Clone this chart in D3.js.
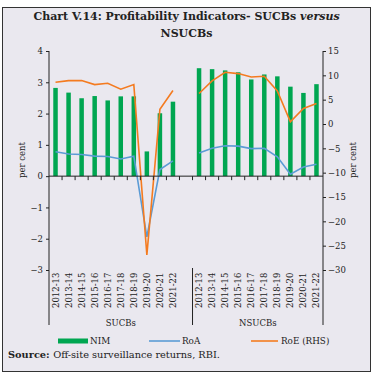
<!DOCTYPE html>
<html>
<head>
<meta charset="utf-8">
<script src="https://cdn.jsdelivr.net/npm/d3@7"></script>
<style>
  body { margin: 0; background: #fff; }
  svg { display: block; font-family: "DejaVu Serif", "Liberation Serif", serif; }
</style>
</head>
<body>
<div id="containerGraph"></div>
<script>
// categories and groups
var years = ["2012-13", "2013-14", "2014-15", "2015-16", "2016-17",
             "2017-18", "2018-19", "2019-20", "2020-21", "2021-22"];
var groups = ["SUCBs", "NSUCBs"];

// series values (per cent)
var nimSUCB  = [2.82, 2.67, 2.49, 2.56, 2.42, 2.55, 2.55, 0.79, 2.01, 2.38];
var nimNSUCB = [3.45, 3.42, 3.38, 3.32, 3.09, 3.25, 3.19, 2.86, 2.66, 2.94];
var roaSUCB  = [0.78, 0.71, 0.69, 0.64, 0.63, 0.55, 0.64, -1.94, 0.21, 0.49];
var roaNSUCB = [0.74, 0.89, 0.97, 0.96, 0.88, 0.89, 0.62, 0.06, 0.29, 0.38];
var roeSUCB  = [8.58, 8.92, 8.92, 8.1, 8.37, 7.14, 8.1, -26.9, 3.04, 6.87];
var roeNSUCB = [6.26, 8.85, 10.63, 10.36, 9.67, 9.81, 6.8, 0.43, 3.18, 4.2];

var leftTicks = [-3, -2, -1, 0, 1, 2, 3, 4];
var rightTicks = [-30, -25, -20, -15, -10, -5, 0, 5, 10, 15];

var W = 373, H = 374;
var margin = {left: 49, right: 50, top: 51, plotBottom: 270};

// keys: 10 SUCB years, a blank slot, 10 NSUCB years
var keys = years.map(function(y) { return "S|" + y; })
  .concat(["gap"])
  .concat(years.map(function(y) { return "N|" + y; }));

var x = d3.scaleBand().domain(keys).range([margin.left, W - margin.right]);
var yL = d3.scaleLinear().domain([-3, 4]).range([margin.plotBottom, margin.top]);
var yR = d3.scaleLinear().domain([-30, 15]).range([margin.plotBottom, margin.top]);

var green = "#00a651", blue = "#5b9bd5", orange = "#f47b20";

var svg = d3.select("#containerGraph").append("svg")
    .attr("width", W).attr("height", H);

// frame
svg.append("rect")
    .attr("x", 2.5).attr("y", 7.5).attr("width", W - 5).attr("height", H - 10)
    .attr("fill", "#eae8ef").attr("stroke", "#333").attr("stroke-width", 1);

// title
var title = svg.append("text").attr("x", W / 2).attr("y", 20)
    .attr("text-anchor", "middle").style("font-size", "11px").style("font-weight", "bold")
    .attr("fill", "#222");
title.append("tspan").text("Chart V.14: Profitability Indicators- SUCBs ");
title.append("tspan").style("font-style", "italic").text("versus");
svg.append("text").attr("x", W / 2).attr("y", 37)
    .attr("text-anchor", "middle").style("font-size", "11px").style("font-weight", "bold")
    .attr("fill", "#222").text("NSUCBs");

// bars
function barData(vals, g) {
  return vals.map(function(v, i) { return {k: g + "|" + years[i], v: v}; });
}
var bw = 4.5;
svg.append("g").selectAll("rect")
    .data(barData(nimSUCB, "S").concat(barData(nimNSUCB, "N")))
  .enter().append("rect")
    .attr("x", function(d) { return x(d.k) + x.bandwidth() / 2 - bw / 2; })
    .attr("width", bw)
    .attr("y", function(d) { return yL(Math.max(0, d.v)); })
    .attr("height", function(d) { return Math.abs(yL(d.v) - yL(0)); })
    .attr("fill", green);

// lines
function drawLine(vals, g, scale, color) {
  var line = d3.line()
      .x(function(d) { return x(d.k) + x.bandwidth() / 2; })
      .y(function(d) { return scale(d.v); });
  svg.append("path")
      .attr("d", line(barData(vals, g)))
      .attr("fill", "none").attr("stroke", color).attr("stroke-width", 1.6);
}
drawLine(roaSUCB, "S", yL, blue);
drawLine(roaNSUCB, "N", yL, blue);
drawLine(roeSUCB, "S", yR, orange);
drawLine(roeNSUCB, "N", yR, orange);

// left axis
var axL = svg.append("g").attr("transform", "translate(" + margin.left + ",0)")
    .call(d3.axisLeft(yL).tickValues(leftTicks).tickSize(3).tickPadding(3).tickFormat(d3.format("d")));
// right axis
var axR = svg.append("g").attr("transform", "translate(" + (W - margin.right) + ",0)")
    .call(d3.axisRight(yR).tickValues(rightTicks).tickSize(3).tickPadding(2).tickFormat(d3.format("d")));
[axL, axR].forEach(function(a) {
  a.select(".domain").remove();
  a.selectAll("text").style("font-size", "8.5px").attr("fill", "#222")
      .style("font-family", "DejaVu Serif, serif");
  a.selectAll("line").attr("stroke", "#222");
});

var bottomY = 325;
// vertical axis lines running down to the group band
svg.append("line").attr("x1", margin.left).attr("x2", margin.left)
    .attr("y1", margin.top).attr("y2", bottomY).attr("stroke", "#222");
svg.append("line").attr("x1", W - margin.right).attr("x2", W - margin.right)
    .attr("y1", margin.top).attr("y2", bottomY).attr("stroke", "#222");
var midX = x("gap") + x.bandwidth();
svg.append("line").attr("x1", midX).attr("x2", midX)
    .attr("y1", 268).attr("y2", bottomY).attr("stroke", "#222");

// x axis at zero
var axX = svg.append("g").attr("transform", "translate(0," + yL(0) + ")");
axX.append("line").attr("x1", margin.left).attr("x2", W - margin.right)
    .attr("stroke", "#222");
axX.selectAll(".tk").data(keys.slice(1)).enter().append("line")
    .attr("x1", function(k) { return x(k); }).attr("x2", function(k) { return x(k); })
    .attr("y1", 0).attr("y2", 4).attr("stroke", "#222");

// category labels (rotated)
svg.append("g").selectAll("text")
    .data(keys.filter(function(k) { return k !== "gap"; }))
  .enter().append("text")
    .attr("transform", function(k) {
      return "translate(" + (x(k) + x.bandwidth() / 2 + 3) + ",308) rotate(-90)";
    })
    .style("font-size", "8.5px").attr("fill", "#222")
    .text(function(k) { return k.split("|")[1]; });

// group labels
svg.append("text").attr("x", (margin.left + midX) / 2).attr("y", 326)
    .attr("text-anchor", "middle").style("font-size", "8.5px").attr("fill", "#222").text(groups[0]);
svg.append("text").attr("x", (midX + W - margin.right) / 2).attr("y", 326)
    .attr("text-anchor", "middle").style("font-size", "8.5px").attr("fill", "#222").text(groups[1]);

// axis titles
svg.append("text").attr("transform", "translate(25,160) rotate(-90)")
    .attr("text-anchor", "middle").style("font-size", "8.5px").attr("fill", "#222").text("per cent");
svg.append("text").attr("transform", "translate(356,160) rotate(-90)")
    .attr("text-anchor", "middle").style("font-size", "8.5px").attr("fill", "#222").text("per cent");

// legend
var lg = svg.append("g").attr("transform", "translate(0,341)");
lg.append("rect").attr("x", 58).attr("y", -2.5).attr("width", 30).attr("height", 5).attr("fill", green);
lg.append("text").attr("x", 90).attr("y", 3).style("font-size", "8.8px").attr("fill", "#222").text("NIM");
lg.append("line").attr("x1", 149).attr("x2", 180).attr("stroke", blue).attr("stroke-width", 1.6);
lg.append("text").attr("x", 182).attr("y", 3).style("font-size", "8.8px").attr("fill", "#222").text("RoA");
lg.append("line").attr("x1", 251).attr("x2", 278).attr("stroke", orange).attr("stroke-width", 1.6);
lg.append("text").attr("x", 281).attr("y", 3).style("font-size", "8.8px").attr("fill", "#222").text("RoE (RHS)");

// source
var src = svg.append("text").attr("x", 8).attr("y", 358).style("font-size", "9.8px").attr("fill", "#222");
src.append("tspan").style("font-weight", "bold").text("Source: ");
src.append("tspan").text("Off-site surveillance returns, RBI.");
</script>
</body>
</html>
